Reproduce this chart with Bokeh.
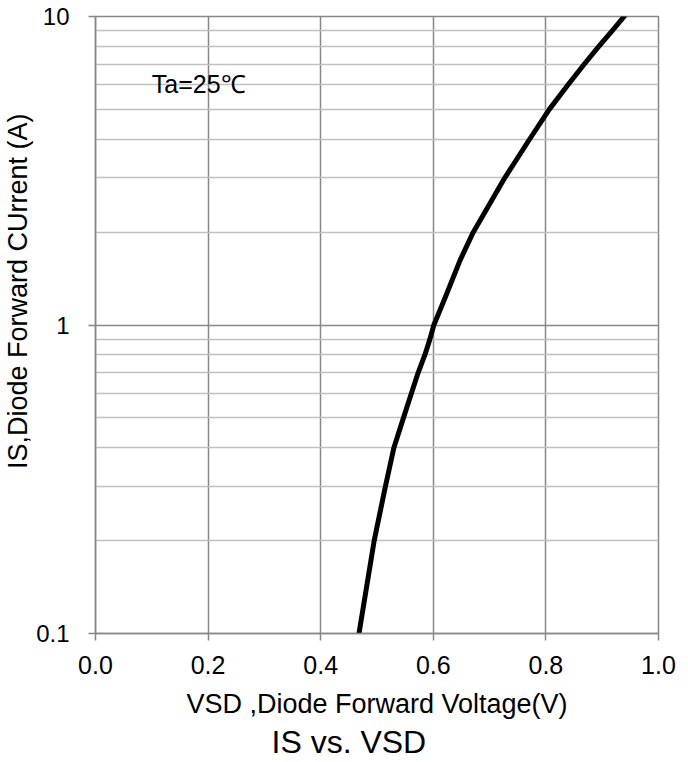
from bokeh.plotting import figure
from bokeh.models import Range1d, FixedTicker, CustomJSTickFormatter, PrintfTickFormatter, Label
from bokeh.embed import file_html
from bokeh.resources import INLINE

# Data (IS vs. VSD, Ta=25C)
vsd = [0.468, 0.495, 0.515, 0.530, 0.547, 0.561, 0.573, 0.585, 0.594, 0.601,
       0.619, 0.6475, 0.671, 0.727, 0.771, 0.806, 0.839, 0.868, 0.894, 0.918, 0.939]
is_current = [0.1, 0.2, 0.3, 0.4, 0.5, 0.6, 0.7, 0.8, 0.9, 1.0,
              1.2, 1.62, 2.0, 3.0, 4.0, 5.0, 6.0, 7.0, 8.0, 9.0, 10.0]

x_ticks = [0.0, 0.2, 0.4, 0.6, 0.8, 1.0]
y_ticks = [0.1, 1, 10]
y_minor = [0.2, 0.3, 0.4, 0.5, 0.6, 0.7, 0.8, 0.9, 2, 3, 4, 5, 6, 7, 8, 9]

FONT = "Liberation Sans"
MAJOR = "#878787"
MINOR = "#c0c0c0"

p = figure(width=680, height=760, output_backend="svg", toolbar_location=None,
           x_range=Range1d(0, 1), y_range=Range1d(0.1, 10), y_axis_type="log",
           title="IS vs. VSD", title_location="below",
           min_border_left=91, min_border_right=22, min_border_top=16, min_border_bottom=127)
p.background_fill_color = "white"
p.border_fill_color = "white"
p.outline_line_color = MAJOR
p.outline_line_width = 1.5

p.title.text_font = FONT
p.title.text_font_size = "32px"
p.title.text_font_style = "normal"
p.title.text_color = "black"
p.title.align = "left"
p.title.offset = 176
p.title.standoff = 0

p.xaxis.ticker = FixedTicker(ticks=x_ticks)
p.xaxis.formatter = PrintfTickFormatter(format="%.1f")
p.yaxis.ticker = FixedTicker(ticks=y_ticks, minor_ticks=y_minor)
p.yaxis.formatter = CustomJSTickFormatter(code="return tick.toString();")

for ax in (p.xaxis, p.yaxis):
    ax.axis_line_color = MAJOR
    ax.axis_line_width = 1.5
    ax.major_tick_line_color = MAJOR
    ax.major_tick_line_width = 1.5
    ax.major_tick_out = 7
    ax.major_tick_in = 0
    ax.minor_tick_out = 0
    ax.minor_tick_in = 0
    ax.major_label_text_font = FONT
    ax.major_label_text_color = "black"
    ax.axis_label_text_font = FONT
    ax.axis_label_text_font_style = "normal"
    ax.axis_label_text_color = "black"

p.xaxis.major_label_text_font_size = "25px"
p.xaxis.major_label_standoff = 15
p.xaxis.axis_label = "VSD ,Diode Forward Voltage(V)"
p.xaxis.axis_label_text_font_size = "27px"
p.xaxis.axis_label_standoff = 12

p.yaxis.major_label_text_font_size = "24px"
p.yaxis.major_label_standoff = 19
p.yaxis.axis_label = "\u00a0" * 9 + "IS,Diode Forward CUrrent (A)"
p.yaxis.axis_label_text_font_size = "27px"
p.yaxis.axis_label_standoff = 0

p.xgrid.grid_line_color = MAJOR
p.xgrid.grid_line_width = 1.5
p.ygrid.grid_line_color = MAJOR
p.ygrid.grid_line_width = 1.5
p.ygrid.minor_grid_line_color = MINOR
p.ygrid.minor_grid_line_width = 1.5

p.line(vsd, is_current, line_width=5, line_color="black", line_join="round", line_cap="round")

p.add_layout(Label(x=0.1, y=6.05, text="Ta=25℃", text_font=FONT, text_font_size="25px",
                   text_color="black", text_baseline="alphabetic", text_align="left"))

open("out.html", "w").write(file_html(p, INLINE))
